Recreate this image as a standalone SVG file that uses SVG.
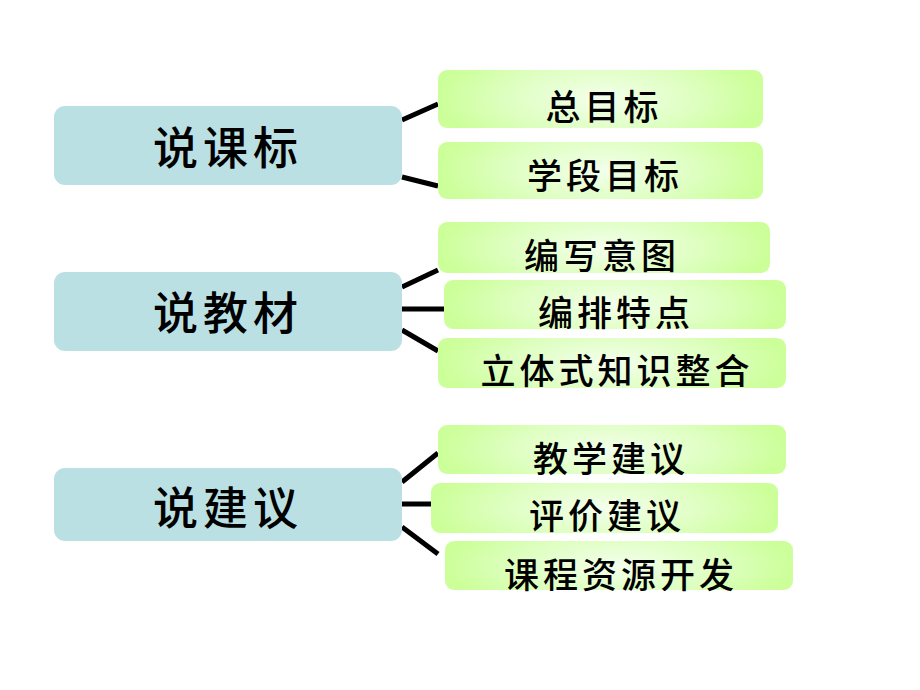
<svg xmlns="http://www.w3.org/2000/svg" width="920" height="690" viewBox="0 0 920 690">
<defs>
<radialGradient id="g" cx="0.5" cy="0.5" r="0.5" gradientTransform="translate(0,-0.5) scale(1,2)" >
<stop offset="0" stop-color="#f4ffec"/>
<stop offset="0.6" stop-color="#ddffbf"/>
<stop offset="1" stop-color="#ccff99"/>
</radialGradient>
<style>
.main{fill:#bbe0e3;}
.sub{fill:url(#g);}
.tm{font-family:"Noto Sans CJK SC","Noto Sans",sans-serif;font-size:45px;font-weight:500;letter-spacing:5px;text-anchor:middle;dominant-baseline:central;fill:#000;}
.ts{font-family:"Noto Sans CJK SC","Noto Sans",sans-serif;font-size:35px;font-weight:500;letter-spacing:4px;text-anchor:middle;dominant-baseline:central;fill:#000;}
.c line{stroke:#000;stroke-width:5;}
</style>
</defs>
<rect width="920" height="690" fill="#fff"/>
<g class="c" id="connectors">
<line x1="402" y1="120" x2="438" y2="104"/>
<line x1="402" y1="177" x2="438" y2="186"/>
<line x1="402" y1="287" x2="438" y2="270"/>
<line x1="402" y1="309" x2="444" y2="309"/>
<line x1="402" y1="330" x2="438" y2="351"/>
<line x1="402" y1="482" x2="438" y2="453"/>
<line x1="402" y1="504" x2="431" y2="504"/>
<line x1="402" y1="527" x2="438" y2="554"/>
</g>
<g id="n1"><rect class="main" x="54" y="106" width="348" height="79" rx="11"/><text class="tm" x="228" y="145">说课标</text></g>
<g id="n2"><rect class="main" x="54" y="272" width="348" height="79" rx="11"/><text class="tm" x="228" y="310">说教材</text></g>
<g id="n3"><rect class="main" x="54" y="468" width="348" height="73" rx="11"/><text class="tm" x="228" y="505">说建议</text></g>
<g id="s1"><rect class="sub" x="438" y="70" width="325" height="58" rx="9"/><text class="ts" x="604" y="104" letter-spacing="9">总目标</text></g>
<g id="s2"><rect class="sub" x="438" y="142" width="325" height="57" rx="9"/><text class="ts" x="605" y="173" letter-spacing="5">学段目标</text></g>
<g id="s3"><rect class="sub" x="438" y="222" width="332" height="51" rx="9"/><text class="ts" x="602" y="253">编写意图</text></g>
<g id="s4"><rect class="sub" x="444" y="280" width="342" height="49" rx="9"/><text class="ts" x="616" y="310">编排特点</text></g>
<g id="s5"><rect class="sub" x="438" y="338" width="348" height="50" rx="9"/><text class="ts" x="617" y="368">立体式知识整合</text></g>
<g id="s6"><rect class="sub" x="438" y="425" width="348" height="49" rx="9"/><text class="ts" x="611" y="456">教学建议</text></g>
<g id="s7"><rect class="sub" x="431" y="483" width="347" height="50" rx="9"/><text class="ts" x="607" y="513">评价建议</text></g>
<g id="s8"><rect class="sub" x="445" y="541" width="348" height="49" rx="9"/><text class="ts" x="621" y="572">课程资源开发</text></g>
</svg>
